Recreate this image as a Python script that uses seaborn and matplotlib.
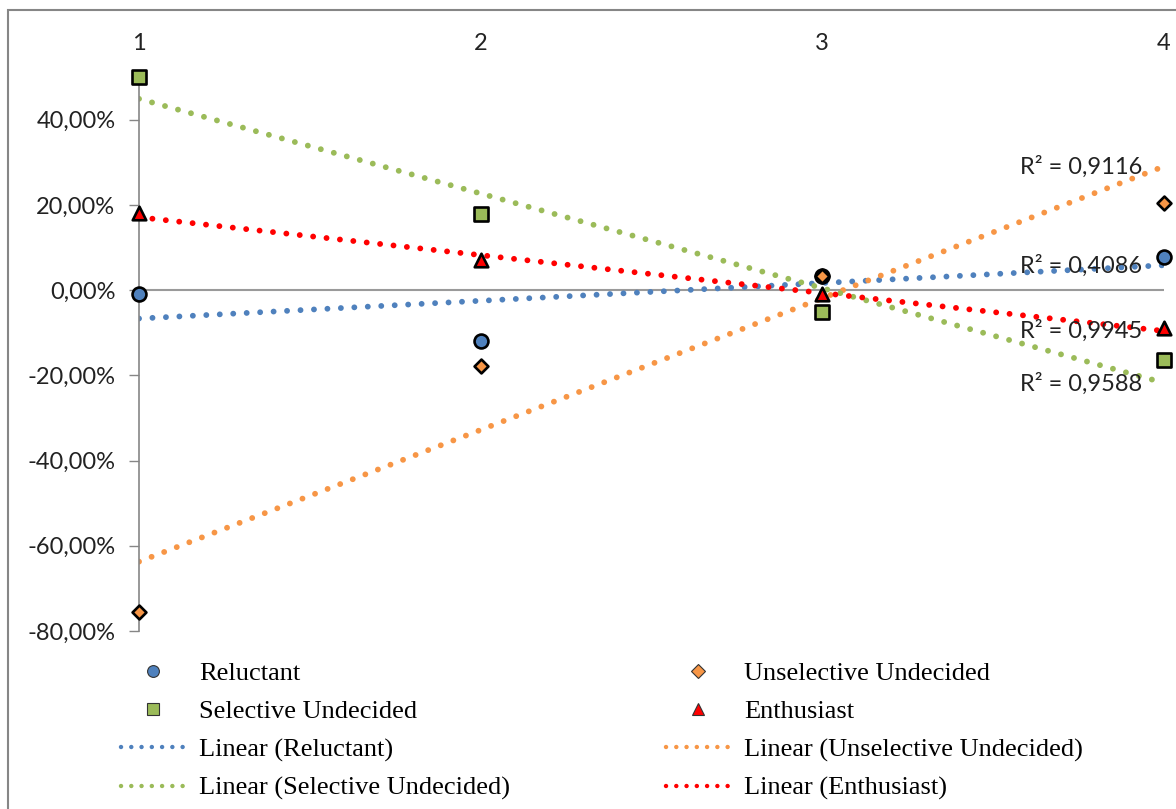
import matplotlib
matplotlib.use("Agg")
import matplotlib.pyplot as plt
import seaborn as sns
import numpy as np
import pandas as pd
from matplotlib.lines import Line2D
from matplotlib.patches import Rectangle
from matplotlib.ticker import FuncFormatter

# ---- data ----
x_values = [1, 2, 3, 4]
series_names = ["Reluctant", "Unselective Undecided", "Selective Undecided", "Enthusiast"]
reluctant = [-0.010, -0.119, 0.034, 0.078]
unselective = [-0.755, -0.178, 0.034, 0.205]
selective = [0.500, 0.178, -0.052, -0.164]
enthusiast = [0.180, 0.070, -0.010, -0.090]
r2_labels = ["R² = 0,9116", "R² = 0,4086", "R² = 0,9945", "R² = 0,9588"]
y_ticks = [-0.8, -0.6, -0.4, -0.2, 0.0, 0.2, 0.4]

sns.set_theme(style="white")
plt.rcParams['font.family'] = ['Lato', 'DejaVu Sans']

W, H = 1176, 809
fig = plt.figure(figsize=(W / 100, H / 100), dpi=100)
fig.patch.set_facecolor("white")
ax = fig.add_axes([139 / W, 1 - 631 / H, (1164 - 139) / W, (631 - 77) / H])

colors = {"Reluctant": "#4F81BD", "Unselective Undecided": "#F79646",
          "Selective Undecided": "#9BBB59", "Enthusiast": "#FF0000"}
markers = {"Reluctant": "o", "Unselective Undecided": "D",
           "Selective Undecided": "s", "Enthusiast": "^"}
sizes = {"Reluctant": 100, "Unselective Undecided": 50,
         "Selective Undecided": 95, "Enthusiast": 95}
values = {"Reluctant": reluctant, "Unselective Undecided": unselective,
          "Selective Undecided": selective, "Enthusiast": enthusiast}

dot_style = (0, (0.01, 2.3))

# trendlines first
for name in series_names:
    df = pd.DataFrame({"x": x_values, "y": values[name]})
    sns.regplot(data=df, x="x", y="y", ax=ax, scatter=False, ci=None, truncate=True,
                line_kws=dict(color=colors[name], lw=4.2, linestyle=dot_style,
                              dash_capstyle="round", zorder=2))

# scatter markers
for name in series_names:
    df = pd.DataFrame({"x": x_values, "y": values[name]})
    sns.scatterplot(data=df, x="x", y="y", ax=ax, marker=markers[name], s=sizes[name],
                    color=colors[name], edgecolor="black", linewidth=1.9,
                    zorder=4, clip_on=False, legend=False)

ax.set_xlim(1, 4)
ax.set_ylim(-0.8, 0.5)
ax.set_xlabel("")
ax.set_ylabel("")

for s in ["top", "right", "bottom"]:
    ax.spines[s].set_visible(False)
ax.spines["left"].set_color("#868686")
ax.spines["left"].set_linewidth(1.2)
ax.axhline(0, color="#9a9a9a", lw=1.5, zorder=1)

ax.set_yticks(y_ticks)
ax.yaxis.set_major_formatter(FuncFormatter(lambda v, p: f"{v*100:.2f}%".replace(".", ",")))
ax.tick_params(axis="y", direction="out", length=7, width=1, color="#868686",
               labelsize=17, pad=10, labelcolor="#222222", left=True)
ax.xaxis.tick_top()
ax.set_xticks(x_values)
ax.set_xticklabels([str(v) for v in x_values])
ax.tick_params(axis="x", length=0, labelsize=17, pad=16.5, labelcolor="#222222")
ax.grid(False)

# R2 labels
r2_pos_y = [0.289, 0.056, -0.096, -0.221]
for lab, yy in zip(r2_labels, r2_pos_y):
    ax.text(3.936, yy, lab, ha="right", va="center", fontsize=17, color="#222222", zorder=5)

# outer frame
fig.add_artist(Rectangle((8 / W, -0.1), 1.2, (H - 10) / H + 0.1, transform=fig.transFigure,
                         fill=False, edgecolor="#868686", lw=1.5))

# legends
def mk(name):
    return Line2D([], [], linestyle="none", marker=markers[name],
                  markerfacecolor=colors[name], markeredgecolor="#333333",
                  markeredgewidth=0.8, markersize=8.5 if name != "Unselective Undecided" else 7)

def ln(name):
    return Line2D([], [], color=colors[name], lw=3.2, linestyle=(0, (0.01, 2.3)),
                  dash_capstyle="round")

leg_kw = dict(frameon=False, loc="upper left", bbox_transform=fig.transFigure,
              borderpad=0, borderaxespad=0, handlelength=2.45, handletextpad=0.5,
              labelspacing=0.55, prop={"family": "Liberation Serif", "size": 19})

h1 = [mk("Reluctant"), mk("Selective Undecided"), ln("Reluctant"), ln("Selective Undecided")]
l1 = ["Reluctant", "Selective Undecided", "Linear (Reluctant)", "Linear (Selective Undecided)"]
leg1 = ax.legend(h1, l1, bbox_to_anchor=(121 / W, 1 - 662 / H), **leg_kw)
for t in leg1.get_texts():
    t.set_color("black")
ax.add_artist(leg1)

h2 = [mk("Unselective Undecided"), mk("Enthusiast"), ln("Unselective Undecided"), ln("Enthusiast")]
l2 = ["Unselective Undecided", "Enthusiast", "Linear (Unselective Undecided)", "Linear (Enthusiast)"]
leg2 = ax.legend(h2, l2, bbox_to_anchor=(666 / W, 1 - 662 / H), **leg_kw)
for t in leg2.get_texts():
    t.set_color("black")

fig.savefig("out.png", dpi=100)
